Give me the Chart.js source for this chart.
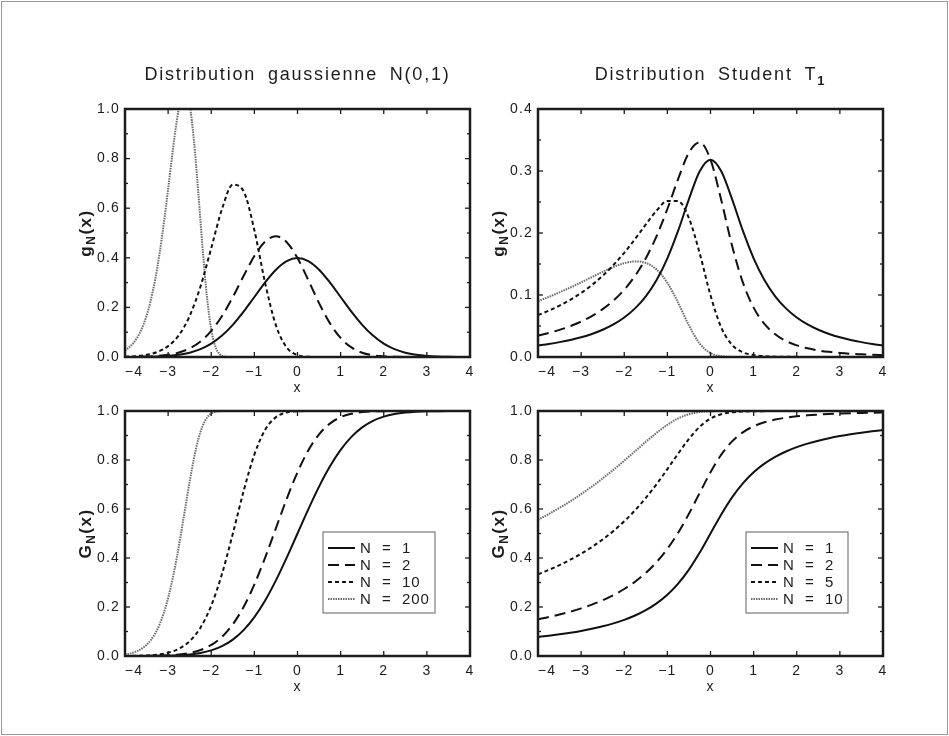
<!DOCTYPE html>
<html lang="fr">
<head>
  <meta charset="UTF-8">
  <title>Distributions gaussienne et Student</title>
  <script src="https://cdn.jsdelivr.net/npm/chart.js"></script>
  <style>
    body {
      margin: 0;
      background-color: #fff;
    }
    .figure {
      position: relative;
      width: 949px;
      height: 736px;
    }
    .figure .border {
      position: absolute;
      left: 1px;
      top: 1px;
      width: 945px;
      height: 732px;
      border: 1px solid #9a9a9a;
    }
    .figure canvas {
      position: absolute;
      left: 0;
      top: 0;
    }
  </style>
</head>
<body>

  <div class="figure">
    <div class="border"></div>
    <canvas id="gaussPdf" width="949" height="736"></canvas>
    <canvas id="studPdf" width="949" height="736"></canvas>
    <canvas id="gaussCdf" width="949" height="736"></canvas>
    <canvas id="studCdf" width="949" height="736"></canvas>
  </div>

  <script>
    // x grid shared by most curves
    const xs = [-4, -3.75, -3.5, -3.25, -3, -2.75, -2.5, -2.25, -2, -1.75, -1.5, -1.25, -1, -0.75, -0.5, -0.25,
      0, 0.25, 0.5, 0.75, 1, 1.25, 1.5, 1.75, 2, 2.25, 2.5, 2.75, 3, 3.25, 3.5, 3.75, 4];
    // finer grid for the narrow N = 200 curve
    const xsFine = [-4, -3.9, -3.8, -3.7, -3.6, -3.5, -3.4, -3.3, -3.2, -3.1, -3, -2.9, -2.8, -2.7, -2.6,
      -2.5, -2.4, -2.3, -2.2, -2.1, -2, -1.9, -1.8, -1.7, -1.6, -1.5, 4];

    // Distribution gaussienne N(0,1) - densites g_N(x)
    const gaussPdf1 = [0.0001, 0.0004, 0.0009, 0.0020, 0.0044, 0.0091, 0.0175, 0.0317, 0.0540, 0.0863, 0.1295, 0.1826, 0.2420, 0.3011, 0.3521, 0.3867,
      0.3989, 0.3867, 0.3521, 0.3011, 0.2420, 0.1826, 0.1295, 0.0863, 0.0540, 0.0317, 0.0175, 0.0091, 0.0044, 0.0020, 0.0009, 0.0004, 0.0001];
    const gaussPdf2 = [0.0003, 0.0007, 0.0017, 0.0041, 0.0089, 0.0181, 0.0348, 0.0627, 0.1055, 0.1656, 0.2417, 0.3267, 0.4072, 0.4658, 0.4869, 0.4630,
      0.3989, 0.3103, 0.2173, 0.1365, 0.0768, 0.0386, 0.0173, 0.0069, 0.0025, 0.0008, 0.0002, 0.0001, 0, 0, 0, 0, 0];
    const gaussPdf10 = [0.0013, 0.0035, 0.0087, 0.0202, 0.0438, 0.0885, 0.1657, 0.2841, 0.4389, 0.5971, 0.6951, 0.6686, 0.5112, 0.2980, 0.1273, 0.0382,
      0.0078, 0.0010, 0.0001, 0, 0, 0, 0, 0, 0, 0, 0, 0, 0, 0, 0, 0, 0];
    const gaussPdf200 = [0.0266, 0.0394, 0.0576, 0.0832, 0.1186, 0.1666, 0.2305, 0.3129, 0.4159, 0.5389, 0.6774, 0.8209, 0.9515, 1.0442,
      1.0721, 1.0149, 0.8704, 0.6628, 0.4374, 0.2435, 0.1108, 0.0398, 0.0108, 0.0022, 0.0003, 0, 0];

    // Distribution gaussienne - fonctions de repartition G_N(x)
    const gaussCdf1 = [0.0000, 0.0001, 0.0002, 0.0006, 0.0013, 0.0030, 0.0062, 0.0122, 0.0228, 0.0401, 0.0668, 0.1056, 0.1587, 0.2266, 0.3085, 0.4013,
      0.5, 0.5987, 0.6915, 0.7734, 0.8413, 0.8944, 0.9332, 0.9599, 0.9772, 0.9878, 0.9938, 0.9970, 0.9987, 0.9994, 0.9998, 0.9999, 1];
    const gaussCdf2 = [0.0001, 0.0002, 0.0005, 0.0012, 0.0027, 0.0060, 0.0124, 0.0243, 0.0450, 0.0785, 0.1292, 0.2001, 0.2921, 0.4019, 0.5219, 0.6416,
      0.75, 0.8390, 0.9048, 0.9486, 0.9748, 0.9888, 0.9955, 0.9984, 0.9995, 0.9998, 1, 1, 1, 1, 1, 1, 1];
    const gaussCdf10 = [0.0003, 0.0009, 0.0023, 0.0058, 0.0134, 0.0294, 0.0604, 0.1157, 0.2056, 0.3356, 0.4991, 0.6726, 0.8223, 0.9235, 0.9750, 0.9941,
      0.9990, 0.9999, 1, 1, 1, 1, 1, 1, 1, 1, 1, 1, 1, 1, 1, 1, 1];
    const gaussCdf200 = [0.0063, 0.0096, 0.0144, 0.0213, 0.0313, 0.0455, 0.0652, 0.0922, 0.1284, 0.1760, 0.2367, 0.3117, 0.4005, 0.5007,
      0.6072, 0.7123, 0.8072, 0.8843, 0.9392, 0.9728, 0.9900, 0.9971, 0.9993, 0.9999, 1, 1, 1];

    // Distribution Student T1 - densites g_N(x)
    const studPdf1 = [0.0187, 0.0211, 0.0240, 0.0275, 0.0318, 0.0372, 0.0439, 0.0525, 0.0637, 0.0784, 0.0979, 0.1242, 0.1592, 0.2037, 0.2546, 0.2996,
      0.3183, 0.2996, 0.2546, 0.2037, 0.1592, 0.1242, 0.0979, 0.0784, 0.0637, 0.0525, 0.0439, 0.0372, 0.0318, 0.0275, 0.0240, 0.0211, 0.0187];
    const studPdf2 = [0.0345, 0.0388, 0.0438, 0.0498, 0.0571, 0.0661, 0.0772, 0.0910, 0.1085, 0.1308, 0.1592, 0.1951, 0.2387, 0.2872, 0.3298, 0.3463,
      0.3183, 0.2529, 0.1795, 0.1203, 0.0796, 0.0534, 0.0367, 0.0259, 0.0188, 0.0140, 0.0106, 0.0083, 0.0065, 0.0052, 0.0043, 0.0035, 0.0029];
    const studPdf5 = [0.0677, 0.0747, 0.0829, 0.0923, 0.1033, 0.1161, 0.1310, 0.1483, 0.1681, 0.1902, 0.2138, 0.2361, 0.2518, 0.2514, 0.2239, 0.1672,
      0.0995, 0.0475, 0.0196, 0.0077, 0.0031, 0.0013, 0.0006, 0.0003, 0.0002, 0.0001, 0, 0, 0, 0, 0, 0, 0];
    const studPdf10 = [0.0902, 0.0969, 0.1043, 0.1121, 0.1204, 0.1289, 0.1374, 0.1451, 0.1513, 0.1542, 0.1517, 0.1410, 0.1195, 0.0875, 0.0510, 0.0216,
      0.0062, 0.0013, 0.0002, 0, 0, 0, 0, 0, 0, 0, 0, 0, 0, 0, 0, 0, 0];

    // Distribution Student T1 - fonctions de repartition G_N(x)
    const studCdf1 = [0.0780, 0.0830, 0.0886, 0.0950, 0.1024, 0.1110, 0.1211, 0.1331, 0.1476, 0.1652, 0.1872, 0.2148, 0.25, 0.2952, 0.3524, 0.4220,
      0.5, 0.5780, 0.6476, 0.7048, 0.75, 0.7852, 0.8128, 0.8348, 0.8524, 0.8669, 0.8789, 0.8890, 0.8976, 0.9050, 0.9114, 0.9170, 0.9220];
    const studCdf2 = [0.1499, 0.1590, 0.1693, 0.1810, 0.1943, 0.2097, 0.2276, 0.2485, 0.2734, 0.3032, 0.3393, 0.3834, 0.4375, 0.5032, 0.5806, 0.6659,
      0.75, 0.8219, 0.8758, 0.9129, 0.9375, 0.9539, 0.9650, 0.9727, 0.9782, 0.9823, 0.9853, 0.9877, 0.9895, 0.9910, 0.9922, 0.9931, 0.9939];
    const studCdf5 = [0.3336, 0.3514, 0.3711, 0.3930, 0.4174, 0.4448, 0.4756, 0.5105, 0.5500, 0.5947, 0.6452, 0.7015, 0.7627, 0.8260, 0.8861, 0.9355,
      0.9688, 0.9866, 0.9946, 0.9978, 0.9990, 0.9995, 0.9998, 0.9999, 0.9999, 1, 1, 1, 1, 1, 1, 1, 1];
    const studCdf10 = [0.5560, 0.5794, 0.6045, 0.6315, 0.6606, 0.6917, 0.7250, 0.7604, 0.7975, 0.8357, 0.8741, 0.9109, 0.9437, 0.9697, 0.9870, 0.9958,
      0.9990, 0.9998, 1, 1, 1, 1, 1, 1, 1, 1, 1, 1, 1, 1, 1, 1, 1];

    const gaussLabels = ['N = 1', 'N = 2', 'N = 10', 'N = 200'];
    const studLabels = ['N = 1', 'N = 2', 'N = 5', 'N = 10'];
    const xTicks = [-4, -3, -2, -1, 0, 1, 2, 3, 4];

    const FONT = '"Liberation Sans", Arial, Helvetica, sans-serif';
    const INK = '#1c1c1c';

    // solid, long dash, short dash, fine grey dots
    const lineStyles = [
      { borderColor: '#111', borderWidth: 2, borderDash: [] },
      { borderColor: '#111', borderWidth: 2, borderDash: [11, 6] },
      { borderColor: '#111', borderWidth: 2, borderDash: [4, 3] },
      { borderColor: '#6a6a6a', borderWidth: 2, borderDash: [1.5, 1] }
    ];

    function points(xv, yv) {
      return xv.map((x, i) => ({ x: x, y: yv[i] }));
    }

    // text with optional subscript pieces, centered on (x, y)
    function drawRich(ctx, parts, x, y, size) {
      const fontOf = p => (p.bold ? 'bold ' : '') + (p.sub ? Math.round(size * 0.72) : size) + 'px ' + FONT;
      let w = 0;
      parts.forEach(p => { ctx.font = fontOf(p); w += ctx.measureText(p.t).width; });
      let cx = x - w / 2;
      ctx.textAlign = 'left';
      ctx.textBaseline = 'middle';
      parts.forEach(p => {
        ctx.font = fontOf(p);
        ctx.fillText(p.t, cx, p.sub ? y + size * 0.35 : y);
        cx += ctx.measureText(p.t).width;
      });
    }

    function line(ctx, x1, y1, x2, y2) {
      ctx.beginPath();
      ctx.moveTo(x1, y1);
      ctx.lineTo(x2, y2);
      ctx.stroke();
    }

    // frame, inward ticks, titles and legend box
    const decor = {
      id: 'decor',
      beforeDraw(chart) {
        chart.ctx.letterSpacing = '1.2px';
      },
      afterDatasetsDraw(chart) {
        const ctx = chart.ctx;
        const a = chart.chartArea;
        const sx = chart.scales.x;
        const sy = chart.scales.y;
        ctx.save();
        ctx.strokeStyle = INK;
        ctx.lineWidth = 1.3;
        sx.ticks.forEach(t => {
          const px = sx.getPixelForValue(t.value);
          line(ctx, px, a.bottom, px, a.bottom - 5);
          line(ctx, px, a.top, px, a.top + 5);
        });
        const yv = sy.ticks.map(t => t.value);
        yv.forEach((v, i) => {
          const py = sy.getPixelForValue(v);
          line(ctx, a.left, py, a.left + 5, py);
          line(ctx, a.right, py, a.right - 5, py);
          if (i < yv.length - 1) {
            const pm = sy.getPixelForValue((v + yv[i + 1]) / 2);
            line(ctx, a.left, pm, a.left + 3, pm);
            line(ctx, a.right, pm, a.right - 3, pm);
          }
        });
        ctx.lineWidth = 2.5;
        ctx.strokeRect(a.left, a.top, a.right - a.left, a.bottom - a.top);
        ctx.restore();
      },
      afterDraw(chart, args, o) {
        const ctx = chart.ctx;
        const a = chart.chartArea;
        const cx = (a.left + a.right) / 2;
        const cy = (a.top + a.bottom) / 2;
        ctx.save();
        ctx.fillStyle = INK;
        if (o.title) {
          ctx.letterSpacing = '1.8px';
          ctx.wordSpacing = '5px';
          drawRich(ctx, o.title, cx, a.top - 34, 18);
          ctx.wordSpacing = '0px';
        }
        ctx.letterSpacing = '1px';
        drawRich(ctx, [{ t: 'x' }], cx, a.bottom + 31, 14);

        ctx.save();
        ctx.translate(a.left - 39, cy);
        ctx.rotate(-Math.PI / 2);
        ctx.letterSpacing = '1.5px';
        drawRich(ctx, o.yTitle, 0, 0, 17);
        ctx.restore();

        if (o.legend) {
          const w = o.legend.width;
          const h = 81;
          const bx = a.right - 35 - w;
          const by = a.bottom - 43 - h;
          ctx.fillStyle = '#fff';
          ctx.fillRect(bx, by, w, h);
          ctx.strokeStyle = '#7a7a7a';
          ctx.lineWidth = 1.2;
          ctx.strokeRect(bx, by, w, h);
          chart.data.datasets.forEach((ds, i) => {
            const ry = by + 16 + i * 17;
            ctx.strokeStyle = ds.borderColor;
            ctx.lineWidth = ds.borderWidth;
            ctx.setLineDash(ds.borderDash);
            line(ctx, bx + 5, ry, bx + 32, ry);
            ctx.setLineDash([]);
            ctx.fillStyle = INK;
            ctx.font = '15px ' + FONT;
            ctx.textAlign = 'left';
            ctx.textBaseline = 'middle';
            ctx.letterSpacing = '1px';
            ctx.wordSpacing = '5px';
            ctx.fillText(ds.label, bx + 37, ry + 1);
            ctx.wordSpacing = '0px';
          });
        }
        ctx.restore();
        ctx.letterSpacing = '0px';
      }
    };

    function fmtX(v) {
      const s = v < 0 ? '\u2212' + Math.abs(v) : String(v);
      // the first label sits just inside the frame
      return v === xTicks[0] ? '\u2007\u2007' + s : s;
    }

    function makeChart(id, area, yMax, yStep, labels, series, opts) {
      const W = 949, H = 736, yW = 45, xH = 30;
      return new Chart(document.getElementById(id), {
        type: 'line',
        data: {
          datasets: series.map((s, i) => Object.assign({
            label: labels[i],
            data: points(s[0], s[1]),
            pointRadius: 0,
            fill: false,
            cubicInterpolationMode: 'monotone'
          }, lineStyles[i]))
        },
        options: {
          responsive: false,
          animation: false,
          devicePixelRatio: 1,
          layout: {
            padding: { left: area.left - yW, right: W - area.right, top: area.top, bottom: H - area.bottom - xH }
          },
          scales: {
            x: {
              type: 'linear',
              min: xTicks[0],
              max: xTicks[xTicks.length - 1],
              afterFit: s => { s.height = xH; },
              grid: { display: false, drawTicks: false },
              border: { display: false },
              ticks: { stepSize: 1, padding: 7, color: INK, font: { family: FONT, size: 14 }, callback: fmtX, autoSkip: false, maxRotation: 0 }
            },
            y: {
              min: 0,
              max: yMax,
              afterFit: s => { s.width = yW; },
              grid: { display: false, drawTicks: false },
              border: { display: false },
              ticks: { stepSize: yStep, padding: 5, color: INK, font: { family: FONT, size: 14 }, callback: v => v.toFixed(1) }
            }
          },
          plugins: {
            legend: { display: false },
            tooltip: { enabled: false },
            decor: opts
          }
        },
        plugins: [decor]
      });
    }

    const gTitle = [{ t: 'g' }, { t: 'N', sub: true }, { t: '(x)' }].map(p => Object.assign({ bold: true }, p));
    const bigGTitle = [{ t: 'G' }, { t: 'N', sub: true }, { t: '(x)' }].map(p => Object.assign({ bold: true }, p));

    makeChart('gaussPdf', { left: 125, right: 470, top: 109, bottom: 357 }, 1.0, 0.2, gaussLabels,
      [[xs, gaussPdf1], [xs, gaussPdf2], [xs, gaussPdf10], [xsFine, gaussPdf200]],
      { title: [{ t: 'Distribution gaussienne N(0,1)' }], yTitle: gTitle });

    makeChart('studPdf', { left: 538, right: 883, top: 109, bottom: 357 }, 0.4, 0.1, studLabels,
      [[xs, studPdf1], [xs, studPdf2], [xs, studPdf5], [xs, studPdf10]],
      { title: [{ t: 'Distribution Student T' }, { t: '1', sub: true, bold: true }], yTitle: gTitle });

    makeChart('gaussCdf', { left: 125, right: 470, top: 411, bottom: 656 }, 1.0, 0.2, gaussLabels,
      [[xs, gaussCdf1], [xs, gaussCdf2], [xs, gaussCdf10], [xsFine, gaussCdf200]],
      { yTitle: bigGTitle, legend: { width: 112 } });

    makeChart('studCdf', { left: 538, right: 883, top: 411, bottom: 656 }, 1.0, 0.2, studLabels,
      [[xs, studCdf1], [xs, studCdf2], [xs, studCdf5], [xs, studCdf10]],
      { yTitle: bigGTitle, legend: { width: 102 } });
  </script>

</body>
</html>
